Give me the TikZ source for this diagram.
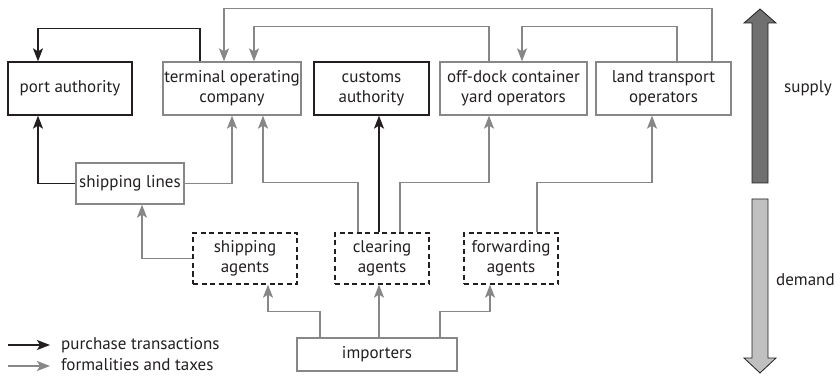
\documentclass[tikz,border=0pt]{standalone}
\usepackage{fontspec}
\setmainfont{PT Sans}
\usetikzlibrary{arrows.meta}
\definecolor{ink}{RGB}{35,31,32}
\definecolor{linegray}{RGB}{135,135,135}
\definecolor{supplygray}{RGB}{112,112,112}
\definecolor{demandgray}{RGB}{192,192,192}
\begin{document}
\begin{tikzpicture}[x=1pt,y=-1pt,
  box/.style={draw=ink,line width=1.3pt,align=center,inner sep=0pt,
    minimum height=53pt,font=\fontsize{17}{20}\selectfont,text=ink},
  graybox/.style={box,draw=linegray},
  agentbox/.style={box,dash pattern=on 5pt off 3.5pt,minimum height=51pt},
  purch/.style={draw=ink,line width=1.5pt,-{Stealth[length=13pt,width=10pt,inset=3pt]}},
  formal/.style={purch,draw=linegray,-{Stealth[length=13pt,width=10pt,inset=3pt,color=linegray]}},
  txt/.style={font=\fontsize{17}{20}\selectfont,text=ink,inner sep=0pt}]
\useasboundingbox (0,0) rectangle (840,379);
% the boxes
\node[box,minimum width=124pt] (port) at (70,88.5) {port authority};
\node[graybox,minimum width=138pt] (term) at (232,88.5) {terminal operating\\company};
\node[box,minimum width=115pt] (customs) at (371.5,88.5) {customs\\authority};
\node[graybox,minimum width=147pt] (offdock) at (513.5,88.5) {off-dock container\\yard operators};
\node[graybox,minimum width=135pt] (land) at (663.5,88.5) {land transport\\operators};
\node[graybox,minimum width=108pt,minimum height=41pt] (lines) at (130,183.5) {shipping lines};
\node[agentbox,minimum width=104pt] (shipag) at (245,258.5) {shipping\\agents};
\node[agentbox,minimum width=94pt] (clear) at (382,258.5) {clearing\\agents};
\node[agentbox,minimum width=94pt] (fwd) at (511,258.5) {forwarding\\agents};
\node[graybox,minimum width=160pt,minimum height=33pt] (imp) at (377,354.5) {importers};
% purchase transactions
\draw[purch] ([xshift=-32]term.north) -- ++(0,-33) -| ([xshift=-32]port.north);
\draw[purch] (lines.west) -| ([xshift=-32]port.south);
\draw[purch] ([xshift=-3]clear.north) -- ([xshift=-3]clear.north |- customs.south);
% formalities and taxes
\draw[formal] (lines.east) -| (term.south);
\draw[formal] ([xshift=48.5]land.north) -- ++(0,-53) -| ([xshift=-8]term.north);
\draw[formal] ([xshift=-24.5]offdock.north) -- ++(0,-35) -| ([xshift=22]term.north);
\draw[formal] ([xshift=13.5]land.north) -- ++(0,-35) -| ([xshift=8.5]offdock.north);
\draw[formal] ([xshift=-24]clear.north) -- ++(0,-50) -| ([xshift=31]term.south);
\draw[formal] ([xshift=18]clear.north) -- ++(0,-50) -| ([xshift=-24.5]offdock.south);
\draw[formal] ([xshift=26]fwd.north) -- ++(0,-50) -| ([xshift=-11.5]land.south);
\draw[formal] (shipag.west) -| ([xshift=12]lines.south);
\draw[formal] ([xshift=-57]imp.north) -- ++(0,-26) -| ([xshift=23]shipag.south);
\draw[formal] ([xshift=2]imp.north) -- ([xshift=2]imp.north |- clear.south);
\draw[formal] ([xshift=63]imp.north) -- ++(0,-26) -| ([xshift=-21]fwd.south);
% supply and demand
\filldraw[fill=supplygray,draw=ink,line width=0.8pt]
  (752,183) -- (752,23) -- (744,23) -- (760,9) -- (776,23) -- (768,23) -- (768,183) -- cycle;
\filldraw[fill=demandgray,draw=ink,line width=0.8pt]
  (752,199) -- (752,358) -- (744,358) -- (760,373) -- (776,358) -- (768,358) -- (768,199) -- cycle;
\node[txt,anchor=west] (supply) at (784,88) {supply};
\node[txt,anchor=west] (demand) at (776,280) {demand};
% the legend
\coordinate (k1a) at (8,345);
\coordinate (k1b) at (50,345);
\node[txt,anchor=west] (k1) at (61,345) {purchase transactions};
\draw[purch] (k1a) -- (k1b);
\coordinate (k2a) at (8,366);
\coordinate (k2b) at (50,366);
\node[txt,anchor=west] (k2) at (61,365) {formalities and taxes};
\draw[formal] (k2a) -- (k2b);
\end{tikzpicture}
\end{document}
